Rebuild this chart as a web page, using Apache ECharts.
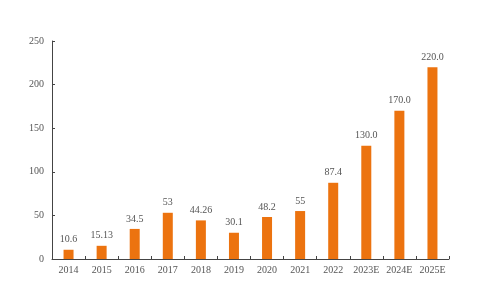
<!DOCTYPE html>
<html><head><meta charset="utf-8">
<script src="https://cdn.jsdelivr.net/npm/echarts@6/dist/echarts.min.js"></script>
<style>html,body{margin:0;padding:0;background:#fff}#c{width:500px;height:283px}</style>
</head><body><div id="c"></div>
<script>
const categories = ['2014','2015','2016','2017','2018','2019','2020','2021','2022','2023E','2024E','2025E'];
const values = [10.6, 15.13, 34.5, 53, 44.26, 30.1, 48.2, 55, 87.4, 130.0, 170.0, 220.0];
const labels = ['10.6','15.13','34.5','53','44.26','30.1','48.2','55','87.4','130.0','170.0','220.0'];
const yTicks = [0, 50, 100, 150, 200, 250];

const chart = echarts.init(document.getElementById('c'));
const font = '"Liberation Serif", "DejaVu Serif", serif';
chart.setOption({
  animation: false,
  grid: {left: 52, right: 51, top: 41, bottom: 24, containLabel: false},
  xAxis: {
    type: 'category', data: categories,
    axisLine: {lineStyle: {color: '#444', width: 1}},
    axisTick: {show: true, inside: true, length: 3, lineStyle: {color: '#444'}},
    axisLabel: {interval: 0, color: '#555', fontFamily: font, fontSize: 10, margin: 6}
  },
  yAxis: {
    type: 'value', min: yTicks[0], max: yTicks[yTicks.length-1], interval: 50,
    axisLine: {show: true, lineStyle: {color: '#444', width: 1}},
    axisTick: {show: true, inside: true, length: 3, lineStyle: {color: '#444'}},
    splitLine: {show: false},
    axisLabel: {color: '#555', fontFamily: font, fontSize: 10, margin: 8}
  },
  series: [{
    type: 'bar', barWidth: 10,
    data: values,
    itemStyle: {color: '#EC730F'},
    label: {show: true, position: 'top', distance: 5, color: '#555', fontFamily: font, fontSize: 10,
      formatter: p => labels[p.dataIndex]}
  }]
});
</script></body></html>
